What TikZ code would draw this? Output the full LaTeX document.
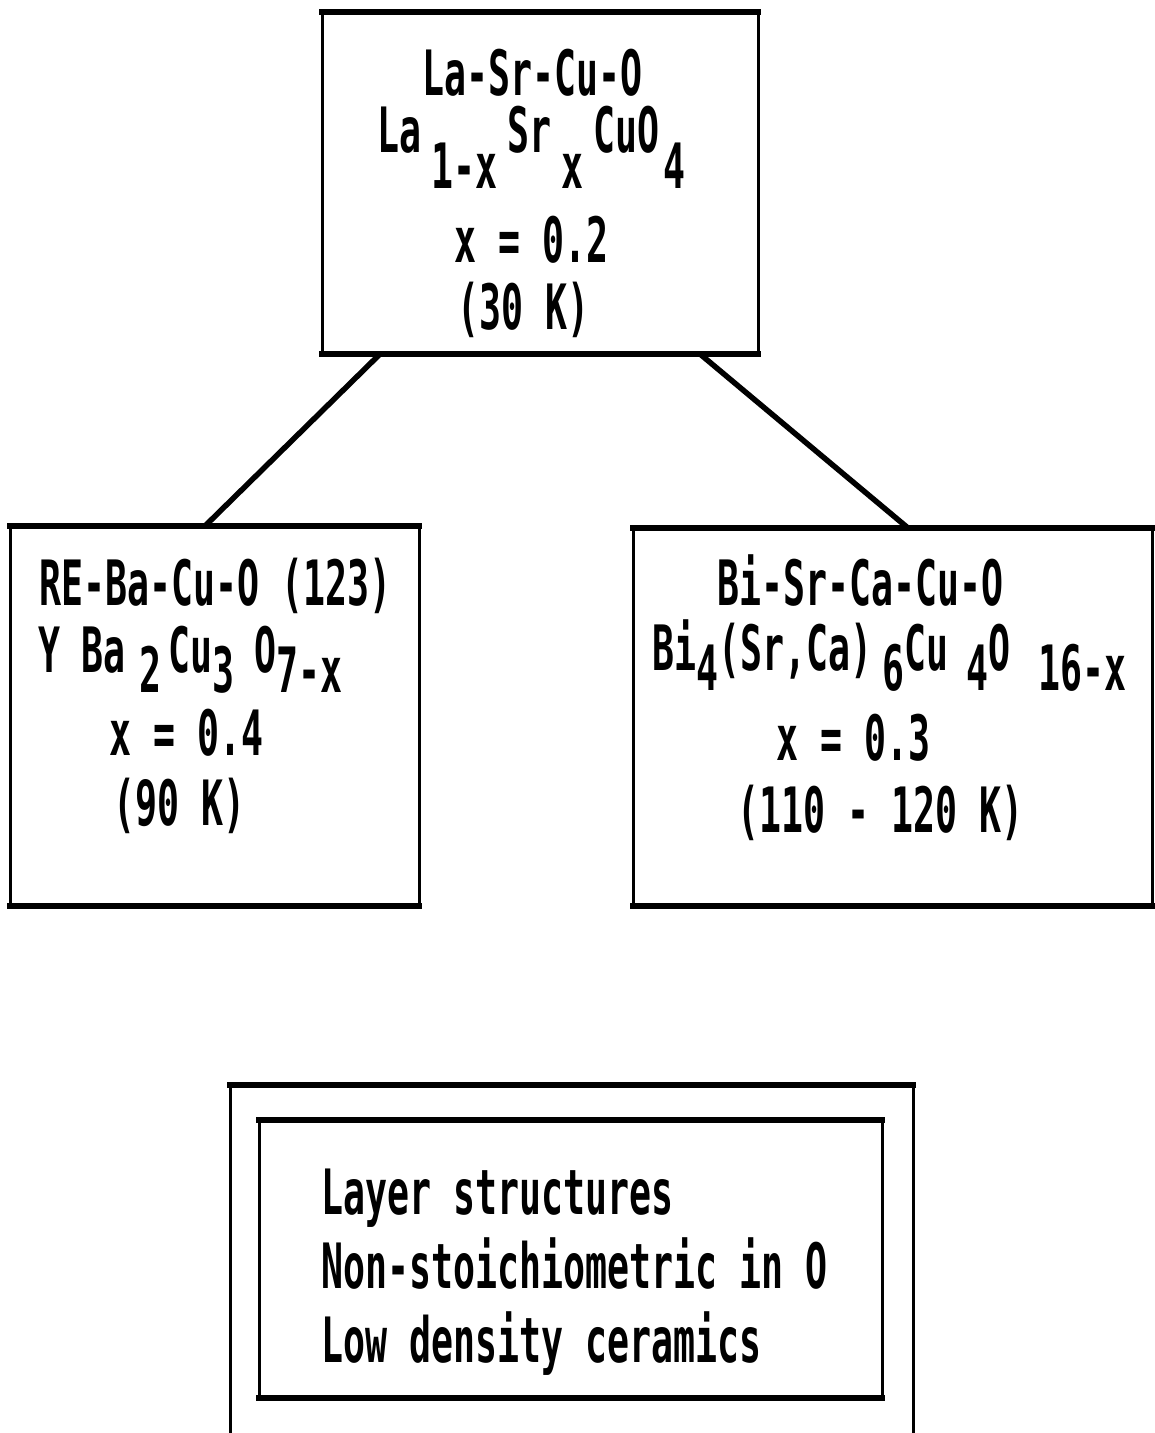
\documentclass[tikz,border=0pt]{standalone}
\usepackage{fontspec}
\newfontfamily\plotfont{DejaVu Sans Mono Bold}[FakeStretch=0.585]
% subscript set at full size, only lowered
\newcommand\dn[2][20pt]{\raisebox{-#1}{#2}}
% frame of a box: heavy horizontal strokes, light vertical strokes
\newcommand\plotbox[1]{%
  \draw[hrule] (#1.north west) -- (#1.north east);
  \draw[hrule] (#1.south west) -- (#1.south east);
  \draw[vrule] (#1.north west) -- (#1.south west);
  \draw[vrule] (#1.north east) -- (#1.south east);}
\begin{document}
\begin{tikzpicture}[x=1pt,y=-1pt,
  area/.style={inner sep=0pt,outer sep=0pt,draw=none},
  hrule/.style={line width=6.5pt,line cap=rect},
  vrule/.style={line width=3pt,line cap=rect},
  link/.style={line width=5.5pt},
  txt/.style={font=\plotfont\fontsize{62.5}{70}\selectfont,inner sep=0pt,anchor=base west}]
\useasboundingbox (0,0) rectangle (1155,1433);

% boxes
\node[area,minimum width=436pt,minimum height=342pt] (top) at (540,183) {};
\node[area,minimum width=409pt,minimum height=380pt] (left) at (214.5,716) {};
\node[area,minimum width=519pt,minimum height=378pt] (right) at (892.5,717) {};
\node[area,minimum width=623pt,minimum height=278pt] (inner) at (570.5,1259) {};
\node[area,minimum width=683pt,minimum height=348pt] (outer) at (571.5,1259) {};
\plotbox{top}
\plotbox{left}
\plotbox{right}
\plotbox{inner}
\draw[hrule] (outer.north west) -- (outer.north east);
\draw[vrule] (outer.north west) -- (outer.south west);
\draw[vrule] (outer.north east) -- (outer.south east);

% connectors
\coordinate (c1) at ([xshift=58pt]top.south west);
\coordinate (c2) at ([xshift=195pt]left.north west);
\coordinate (c3) at ([xshift=-58pt]top.south east);
\coordinate (c4) at ([xshift=275pt]right.north west);
\draw[link] (c1) -- (c2);
\draw[link] (c3) -- (c4);

% La-Sr-Cu-O
\node[txt] (t1) at (422,95) {La-Sr-Cu-O};
\node[txt] (t2) at (377,152) {La\hspace{10pt}\dn[36pt]{1-x}\hspace{10pt}Sr\hspace{10pt}\dn[36pt]{x}\hspace{10pt}CuO\hspace{4pt}\dn[36pt]{4}};
\node[txt] (t3) at (454,262) {x = 0.2};
\node[txt] (t4) at (457,329) {(30 K)};

% RE-Ba-Cu-O
\node[txt] (l1) at (39,605) {RE-Ba-Cu-O (123)};
\node[txt] (l2) at (38,672) {Y\hspace{21pt}Ba\hspace{14pt}\dn{2}\hspace{7pt}Cu\dn{3}\hspace{20pt}O\dn{7-x}};
\node[txt] (l3) at (109,755) {x = 0.4};
\node[txt] (l4) at (113,825) {(90 K)};

% Bi-Sr-Ca-Cu-O
\node[txt] (r1) at (717,605) {Bi-Sr-Ca-Cu-O};
\node[txt] (r2) at (652,670) {Bi\dn{4}(Sr,Ca)\hspace{10pt}\dn{6}Cu\hspace{18pt}\dn{4}O\hspace{28pt}\dn{16-x}};
\node[txt] (r3) at (776,760) {x = 0.3};
\node[txt] (r4) at (737,832) {(110 - 120 K)};

% common features
\node[txt] (b1) at (321,1214) {Layer structures};
\node[txt] (b2) at (321,1288) {Non-stoichiometric in O};
\node[txt] (b3) at (321,1362) {Low density ceramics};
\end{tikzpicture}
\end{document}
